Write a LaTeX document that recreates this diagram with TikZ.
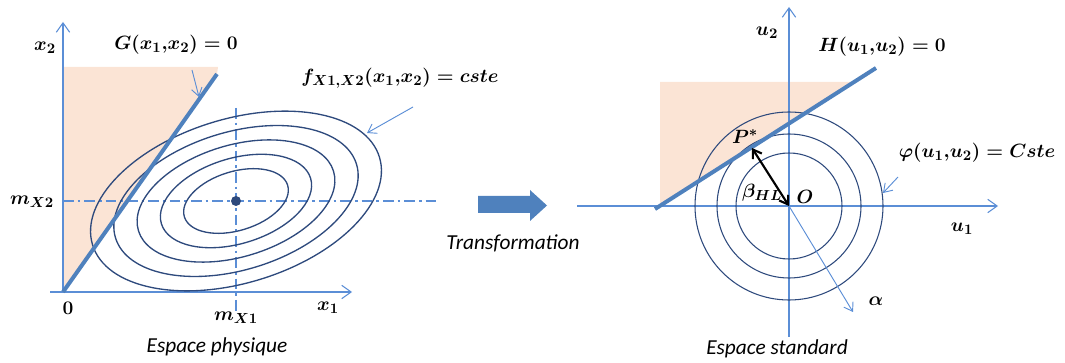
\documentclass[tikz,border=0pt]{standalone}
\usepackage{fontspec}
\newfontfamily\calibfont{Carlito}
\usetikzlibrary{arrows.meta}
\definecolor{axisblue}{HTML}{5B8ED6}
\definecolor{lineblue}{HTML}{4F81BD}
\definecolor{navy}{HTML}{2E4A7D}
\definecolor{shadecol}{HTML}{FBE4D5}
\begin{document}
\begin{tikzpicture}[x=0.75pt,y=-0.75pt,
  axis/.style={draw=axisblue, line width=0.8pt, -{Straight Barb[length=7pt,width=10pt]}},
  pointer/.style={draw=axisblue, line width=0.7pt, -{Straight Barb[length=6pt,width=8pt]}},
  limit/.style={draw=lineblue, line width=3pt},
  dashdot/.style={draw=axisblue, line width=0.8pt, dash pattern=on 8pt off 3pt on 2pt off 3pt},
  contour/.style={draw=navy, line width=1pt},
  ring/.style={draw=navy, line width=0.8pt},
  lbl/.style={inner sep=0pt, font=\fontsize{15}{17}\selectfont\boldmath},
  caption/.style={inner sep=0pt, font=\fontsize{16}{18}\selectfont\calibfont\itshape}]
\useasboundingbox (0,0) rectangle (1065,363);

% ---------- left panel ----------
\coordinate (O1) at (63,292);
\coordinate (X1a) at (50,292);
\coordinate (X1e) at (352,292);
\coordinate (X2e) at (63,22);
\coordinate (Gtop) at (217,74);
\coordinate (E) at (236,201);
\fill[shadecol] (O1) -- (Gtop) -- (218,67) -- (63,67) -- cycle;
\draw[axis] (X1a) -- (X1e);
\draw[axis] (O1) -- (X2e);
\coordinate (HdA) at (63,201);
\coordinate (HdB) at (436,201);
\coordinate (VdA) at (236,108);
\coordinate (VdB) at (236,312);
\draw[dashdot] (HdA) -- (HdB);
\draw[dashdot] (VdA) -- (VdB);
\foreach \s in {1,0.84,0.68,0.52,0.36}{
  \draw[contour, rotate around={17:(E)}] (E) ellipse [x radius=150*\s, y radius=82*\s];
}
\fill[navy] (E) circle [radius=5];
\draw[limit] (O1) -- (Gtop);

\node[lbl] (lx2) at (45,48) {$x_2$};
\node[lbl] (lG) at (176,45) {$G(x_1{,}x_2)=0$};
\coordinate (Ga) at (192,70);
\coordinate (Gp) at (199,97);
\draw[pointer] (Ga) -- (Gp);
\node[lbl] (lf) at (400,78) {$f_{X1,X2}(x_1{,}x_2)=cste$};
\coordinate (fa) at (413,107);
\coordinate (fb) at (367,133);
\draw[pointer] (fa) -- (fb);
\node[lbl] (lm2) at (32,202) {$m_{X2}$};
\node[lbl] (l0) at (68,308) {$0$};
\node[lbl] (lm1) at (236,318) {$m_{X1}$};
\node[lbl] (lx1) at (328,308) {$x_1$};
\node[caption] (cap1) at (217,347) {Espace physique};

% ---------- transformation ----------
\fill[lineblue] (478,196) -- (530,196) -- (530,190) -- (547,205.5) -- (530,221) -- (530,213) -- (478,213) -- cycle;
\node[caption] (ltr) at (513,243) {Transformation};

% ---------- right panel ----------
\coordinate (O2) at (789,206);
\coordinate (U1a) at (577,206);
\coordinate (U1e) at (998,206);
\coordinate (U2a) at (789,337);
\coordinate (U2e) at (789,7);
\coordinate (Ha) at (655,209);
\coordinate (Hb) at (876,68);
\coordinate (Pst) at (752,148);
\fill[shadecol] (660,206) -- (852,82) -- (660,82) -- cycle;
\draw[axis] (U1a) -- (U1e);
\draw[axis] (U2a) -- (U2e);
\draw[ring] (O2) circle [radius=94];
\draw[ring] (O2) circle [radius=72];
\draw[ring] (O2) circle [radius=53];
\draw[limit] (Ha) -- (Hb);
\coordinate (alp) at (853,312);
\draw[pointer] (O2) -- (alp);
\draw[line width=1.6pt, {Straight Barb[length=6pt,width=8pt]}-{Straight Barb[length=6pt,width=8pt]}] (Pst) -- (O2);
\coordinate (pa) at (898,177);
\coordinate (pb) at (883,193);
\draw[pointer] (pa) -- (pb);

\node[lbl] (lu2) at (767,33) {$u_2$};
\node[lbl] (lH) at (882,47) {$H(u_1{,}u_2)=0$};
\node[lbl] (lP) at (745,137) {$P^*$};
\node[lbl] (lphi) at (977,153) {$\varphi(u_1{,}u_2)=Cste$};
\node[lbl] (lbeta) at (762,193) {$\beta_{HL}$};
\node[lbl] (lO) at (805,197) {$O$};
\node[lbl] (lu1) at (962,229) {$u_1$};
\node[lbl] (la) at (876,301) {$\alpha$};
\node[caption] (cap2) at (777,349) {Espace standard};
\end{tikzpicture}
\end{document}
